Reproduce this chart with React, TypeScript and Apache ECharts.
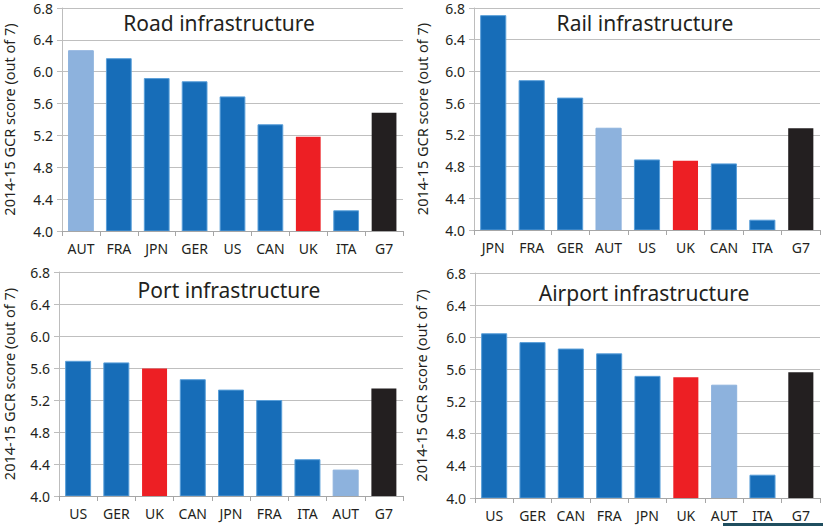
import React, { useEffect, useRef } from "react";
import * as echarts from "echarts";

// GCR 2014-15 infrastructure scores (out of 7), one panel per infrastructure type
const roadCategories = ["AUT", "FRA", "JPN", "GER", "US", "CAN", "UK", "ITA", "G7"];
const roadValues = [6.27, 6.17, 5.92, 5.88, 5.69, 5.34, 5.19, 4.26, 5.49];

const railCategories = ["JPN", "FRA", "GER", "AUT", "US", "UK", "CAN", "ITA", "G7"];
const railValues = [6.71, 5.89, 5.67, 5.29, 4.89, 4.88, 4.84, 4.13, 5.29];

const portCategories = ["US", "GER", "UK", "CAN", "JPN", "FRA", "ITA", "AUT", "G7"];
const portValues = [5.69, 5.67, 5.6, 5.46, 5.33, 5.2, 4.46, 4.33, 5.35];

const airportCategories = ["US", "GER", "CAN", "FRA", "JPN", "UK", "AUT", "ITA", "G7"];
const airportValues = [6.05, 5.94, 5.86, 5.8, 5.52, 5.51, 5.41, 4.29, 5.57];

const panelTitles = ["Road infrastructure", "Rail infrastructure", "Port infrastructure", "Airport infrastructure"];
const yTicks = [4.0, 4.4, 4.8, 5.2, 5.6, 6.0, 6.4, 6.8];
const yAxisName = "2014-15 GCR score (out of 7)";

const FONT = "'Noto Sans', 'DejaVu Sans', sans-serif";
const TEXT = "#231f20";
const BLUE = "#176db8";
const LIGHT_BLUE = "#8db2dd";
const RED = "#ed1f24";
const BLACK = "#231f20";

function barColor(cat: string): string {
  if (cat === "UK") return RED;
  if (cat === "G7") return BLACK;
  if (cat === "AUT") return LIGHT_BLUE;
  return BLUE;
}

function barBorder(cat: string): string {
  if (cat === "UK" || cat === "G7") return "rgba(0,0,0,0)";
  if (cat === "AUT") return LIGHT_BLUE;
  return "#5a9fd9";
}

const panels = [
  { cats: roadCategories, vals: roadValues, grid: { left: 57, top: 8, width: 346, height: 223 }, nameGap: 46, titleX: 219, titleY: 23 },
  { cats: railCategories, vals: railValues, grid: { left: 474, top: 8, width: 346, height: 222 }, nameGap: 45, titleX: 645, titleY: 23 },
  { cats: portCategories, vals: portValues, grid: { left: 52, top: 272, width: 351, height: 224 }, nameGap: 43, titleX: 229, titleY: 290 },
  { cats: airportCategories, vals: airportValues, grid: { left: 475, top: 273, width: 345, height: 225 }, nameGap: 47, titleX: 644, titleY: 293 },
];

export default function App() {
  const ref = useRef<HTMLDivElement>(null);

  useEffect(() => {
    document.body.style.margin = "0";
    if (!ref.current) return;
    const chart = echarts.init(ref.current, null, { renderer: "svg" });

    const grids = panels.map((p) => ({ ...p.grid, containLabel: false }));

    const xAxes = panels.map((p, i) => ({
      type: "category",
      gridIndex: i,
      data: p.cats,
      axisLine: { show: true, lineStyle: { color: "#a6a6a6", width: 1 } },
      axisTick: { show: true, alignWithLabel: false, length: 5, lineStyle: { color: "#a6a6a6" } },
      axisLabel: { color: TEXT, fontSize: 14, fontFamily: FONT, margin: 10, interval: 0 },
      z: 5,
    }));

    const yAxes = panels.map((p, i) => ({
      type: "value",
      gridIndex: i,
      min: 4.0,
      max: 6.8,
      interval: 0.4,
      name: yAxisName,
      nameLocation: "middle",
      nameRotate: 90,
      nameGap: p.nameGap,
      nameTextStyle: { color: TEXT, fontSize: 14.5, fontFamily: FONT },
      axisLine: { show: true, lineStyle: { color: "#bdbdbd" } },
      axisTick: { show: true, length: 5, lineStyle: { color: "#bdbdbd" } },
      axisLabel: {
        color: TEXT,
        fontSize: 14,
        fontFamily: FONT,
        margin: 9,
        formatter: (v: number) => (yTicks.some((t) => Math.abs(t - v) < 1e-6) ? v.toFixed(1) : ""),
      },
      splitLine: { show: true, lineStyle: { color: "#bfbfbf", width: 1 } },
    }));

    const series = panels.map((p, i) => ({
      type: "bar",
      xAxisIndex: i,
      yAxisIndex: i,
      barCategoryGap: "32%",
      data: p.vals.map((v, j) => ({
        value: v,
        itemStyle: { color: barColor(p.cats[j]), borderColor: barBorder(p.cats[j]), borderWidth: 1 },
      })),
    }));

    const titles = panels.map((p, i) => ({
      type: "text",
      x: p.titleX,
      y: p.titleY,
      style: {
        text: panelTitles[i],
        fill: TEXT,
        font: `400 21px ${FONT}`,
        align: "center",
        verticalAlign: "middle",
        textAlign: "center",
        textVerticalAlign: "middle",
      },
      z: 10,
    }));

    chart.setOption({
      animation: false,
      backgroundColor: "#ffffff",
      grid: grids,
      xAxis: xAxes,
      yAxis: yAxes,
      series,
      graphic: [
        ...titles,
        {
          type: "rect",
          shape: { x: 723, y: 523, width: 100, height: 3 },
          style: { fill: "#1f4e5f" },
          z: 10,
        },
      ],
    });

    return () => chart.dispose();
  }, []);

  return <div ref={ref} style={{ width: 823, height: 526 }} />;
}
